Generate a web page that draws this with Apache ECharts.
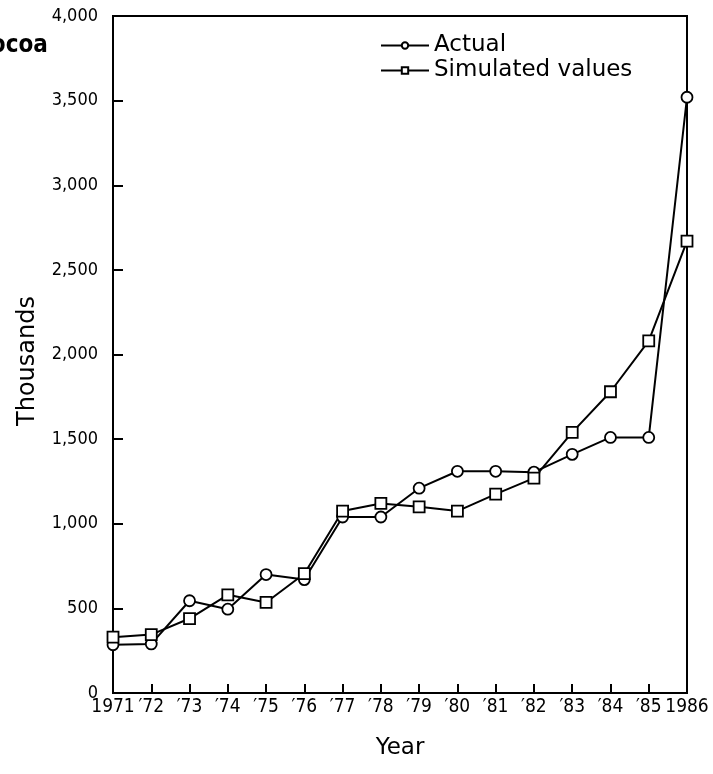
<!DOCTYPE html>
<html>
<head>
<meta charset="utf-8">
<script src="https://cdn.jsdelivr.net/npm/echarts@6/dist/echarts.min.js"></script>
<style>html,body{margin:0;padding:0;background:#fff;}#c{width:713px;height:774px;}</style>
</head>
<body>
<div id="c"></div>
<script>
const years = ['1971','′72','′73','′74','′75','′76','′77','′78','′79','′80','′81','′82','′83','′84','′85','1986'];
const actual = [285, 290, 545, 495, 700, 670, 1040, 1040, 1210, 1310, 1310, 1305, 1410, 1510, 1510, 3520];
const simulated = [330, 345, 440, 580, 535, 705, 1075, 1120, 1100, 1075, 1175, 1270, 1540, 1780, 2080, 2670];
const yTicks = [0, 500, 1000, 1500, 2000, 2500, 3000, 3500, 4000];

const condFont = '"DejaVu Sans Condensed", "DejaVu Sans", sans-serif';
const font = '"DejaVu Sans", sans-serif';
const chart = echarts.init(document.getElementById('c'), null, {renderer: 'canvas'});
chart.setOption({
  animation: false,
  backgroundColor: '#fff',
  grid: {left: 113, right: 26, top: 16, bottom: 81, show: true, borderColor: '#000', borderWidth: 2, backgroundColor: 'transparent'},
  graphic: [{
    type: 'text', x: -25, y: 46,
    style: {text: 'Cocoa', fontFamily: condFont, fontWeight: 'bold', fontSize: 24,
      fill: '#000', verticalAlign: 'middle', align: 'left'}
  }, {
    type: 'text', x: 28, y: 361, rotation: Math.PI / 2,
    style: {text: 'Thousands', fontFamily: font, fontSize: 24, fill: '#000', align: 'center', verticalAlign: 'middle'}
  }],
  legend: {
    orient: 'vertical', left: 375, top: 29, itemWidth: 48, itemHeight: 8, itemGap: 2,
    textStyle: {fontFamily: font, fontSize: 23, color: '#000'},
    data: ['Actual', 'Simulated values']
  },
  xAxis: {
    type: 'category', data: years, boundaryGap: false,
    name: 'Year', nameLocation: 'middle', nameGap: 44,
    nameTextStyle: {fontFamily: font, fontSize: 23, color: '#000'},
    axisLine: {lineStyle: {color: '#000', width: 2}},
    axisTick: {inside: true, length: 9, lineStyle: {color: '#000', width: 2}},
    axisLabel: {fontFamily: condFont, fontSize: 19, color: '#000', margin: 5, interval: 0},
    splitLine: {show: false}
  },
  yAxis: {
    type: 'value', min: 0, max: 4000, interval: 500,
    axisLine: {show: true, lineStyle: {color: '#000', width: 2}},
    axisTick: {show: true, inside: true, length: 10, lineStyle: {color: '#000', width: 2}},
    axisLabel: {fontFamily: condFont, fontSize: 18, color: '#000', margin: 15,
      formatter: v => yTicks.includes(v) ? v.toLocaleString('en-US') : ''},
    splitLine: {show: false}
  },
  series: [
    {name: 'Actual', type: 'line', data: actual, symbol: 'circle', symbolSize: 11,
      lineStyle: {color: '#000', width: 2}, itemStyle: {color: '#fff', borderColor: '#000', borderWidth: 1.8}},
    {name: 'Simulated values', type: 'line', data: simulated, symbol: 'rect', symbolSize: 11,
      lineStyle: {color: '#000', width: 2}, itemStyle: {color: '#fff', borderColor: '#000', borderWidth: 1.8}}
  ]
});
</script>
</body>
</html>
